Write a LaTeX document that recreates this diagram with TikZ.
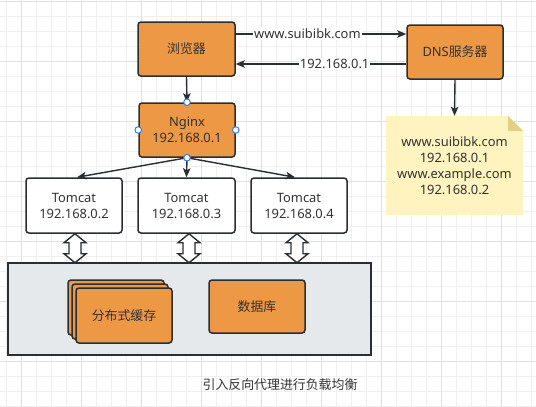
\documentclass[tikz,border=0pt]{standalone}
\usepackage{fontspec}
\setmainfont{Noto Sans}
\newfontfamily\cjk{Noto Sans CJK SC}
\usetikzlibrary{arrows.meta,calc}
\definecolor{lc}{HTML}{2A2E33}
\definecolor{txt}{HTML}{333333}
\definecolor{orangefill}{HTML}{EC9845}
\definecolor{contfill}{HTML}{E6E9EC}
\definecolor{notefill}{HTML}{FFF3BF}
\definecolor{foldfill}{HTML}{E3D087}
\definecolor{gridminor}{HTML}{F0F0F0}
\definecolor{gridmajor}{HTML}{E0E0E0}
\definecolor{handleblue}{HTML}{2F7FE8}
\tikzset{
  box/.style={draw=lc, line width=1.5pt, rounded corners=3pt, fill=orangefill, text=txt,
    align=center, inner sep=0pt, minimum width=96pt, minimum height=54pt,
    font=\fontsize{12.9}{16}\selectfont},
  wbox/.style={box, fill=white},
  conn/.style={draw=lc, line width=1.4pt, -{Stealth[length=9pt,width=7.5pt,inset=2pt]}},
  lbl/.style={fill=white, text=txt, inner sep=1pt, font=\fontsize{12.9}{16}\selectfont},
  dbl/.style={draw=lc, line width=1.4pt, fill=white, line join=miter},
  handle/.style={draw=handleblue, fill=white, line width=1pt},
}
\begin{document}
\begin{tikzpicture}[x=1pt,y=-1pt]
\useasboundingbox (0,0) rectangle (536,407);
\fill[white] (0,0) rectangle (536,407);
% background grid
\foreach \i in {0,...,35} \draw[gridminor, line width=1pt] ({6.7+15*\i},0) -- ++(0,407);
\foreach \i in {0,...,27} \draw[gridminor, line width=1pt] (0,{1.7+15*\i}) -- ++(536,0);
\foreach \i in {0,...,8} \draw[gridmajor, line width=1pt] ({21.7+60*\i},0) -- ++(0,407);
\foreach \i in {0,...,6} \draw[gridmajor, line width=1pt] (0,{1.7+60*\i}) -- ++(536,0);

% main boxes
\node[box, minimum width=97pt] (browser) at (186.5,49) {\cjk 浏览器};
\node[box] (dns) at (455,52) {DNS{\cjk 服务器}};
\node[box] (nginx) at (187,130) {Nginx\\192.168.0.1};
\node[wbox, minimum height=55pt] (t1) at (74,205.5) {Tomcat\\192.168.0.2};
\node[wbox, minimum height=55pt, minimum width=97pt] (t2) at (186.5,205.5) {Tomcat\\192.168.0.3};
\node[wbox, minimum height=55pt] (t3) at (299,205.5) {Tomcat\\192.168.0.4};

% container
\node[draw=lc, line width=1.5pt, fill=contfill, minimum width=363pt, minimum height=92pt, inner sep=0pt] (cont) at (189.5,309) {};
\node[box, minimum height=55pt] (cache3) at (116,307.5) {};
\node[box, minimum height=55pt] (cache2) at (120,311.5) {};
\node[box, minimum height=55pt] (cache) at (124,315.5) {\cjk 分布式缓存};
\node[box, minimum height=53pt] (db) at (257,306.5) {\cjk 数据库};

% note
\fill[notefill] (386,116) -- (508,116) -- (523,131) -- (523,215) -- (386,215) -- cycle;
\fill[foldfill] (508,116) -- (508,131) -- (523,131) -- cycle;
\node[text=txt, align=center, inner sep=0pt, minimum width=137pt, minimum height=99pt,
  font=\fontsize{12.9}{16.2}\selectfont] (note) at (454.5,165.5)
  {www.suibibk.com\\192.168.0.1\\www.example.com\\192.168.0.2};

% connectors
\draw[conn] ($(browser.east)+(0,-15)$) coordinate (q1) -- (q1 -| dns.west)
  node[lbl, pos=0.42] {www.suibibk.com};
\draw[conn] ($(dns.west)+(0,12)$) coordinate (q2) -- (q2 -| browser.east)
  node[lbl, pos=0.42] {192.168.0.1};
\draw[conn] (browser.south) -- (nginx.north);
\draw[conn] (dns.south) -- (note.north);
\draw[conn] (nginx.south) -- ([xshift=3pt]t1.north);
\draw[conn] (nginx.south) -- (t2.north);
\draw[conn] (nginx.south) -- ([xshift=-4pt]t3.north);

% double arrows
\foreach \t/\dx in {t1/1, t2/2.5, t3/-2} {
  \draw[dbl] ([xshift=\dx pt]\t.south) -- ++(11,9) -- ++(-5,0) -- ++(0,11) -- ++(5,0)
    -- ++(-11,9) -- ++(-11,-9) -- ++(5,0) -- ++(0,-11) -- ++(-5,0) -- cycle;
}

% selection handles
\foreach \a in {north,south,east,west} \draw[handle] (nginx.\a) circle (3.3pt);

% caption
\node[text=txt, font=\cjk\fontsize{12.9}{16}\selectfont] (caption) at (280,385) {引入反向代理进行负载均衡};
\end{tikzpicture}
\end{document}
